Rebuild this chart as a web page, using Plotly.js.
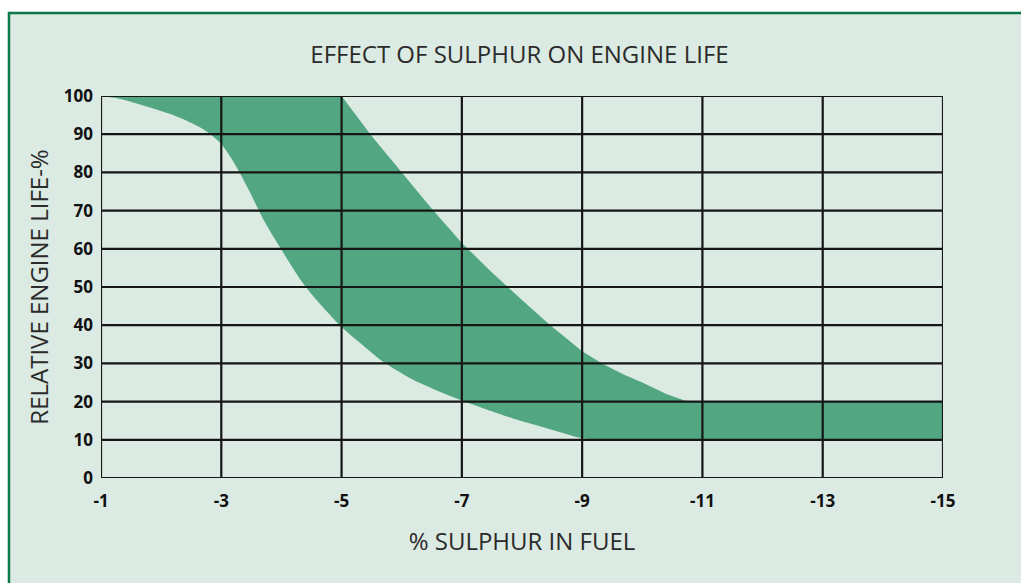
<!DOCTYPE html>
<html>
<head>
<meta charset="utf-8">
<script src="https://cdn.plot.ly/plotly-3.0.1.min.js"></script>
<style>html,body{margin:0;padding:0;background:#ffffff;}#chart{width:1021px;height:583px;}</style>
</head>
<body>
<div id="chart"></div>
<script>
// ---- data ----
const xTicks = [-1, -3, -5, -7, -9, -11, -13, -15];
const yTicks = [0, 10, 20, 30, 40, 50, 60, 70, 80, 90, 100];

// upper edge of the band (% sulphur, relative life %)
const upperX = [-1, -5, -5.5, -6, -6.5, -7, -7.5, -8, -8.46, -9, -9.33, -9.7, -10, -10.4, -10.75, -15];
const upperY = [100, 100, 89.5, 80, 70.5, 61.5, 53.8, 46.6, 40.1, 33.2, 30, 27, 25, 22, 20, 20];

// lower edge of the band
const lowerX = [-1, -1.3, -1.65, -2.2, -2.7, -2.98, -3.12, -3.26, -3.48, -3.7, -3.98, -4.39, -4.97, -5.35, -5.69, -6.19, -6.6, -6.97, -7.4, -7.85, -8.4, -9, -9.3, -15];
const lowerY = [100, 99.3, 97.8, 95.0, 91.3, 87.8, 84.8, 81.2, 74.7, 67.7, 60.3, 50.3, 40, 34.8, 30.4, 25.7, 22.8, 20.5, 18.0, 15.6, 13.1, 10.4, 10, 10];

// ---- styles ----
const bandColor = '#52a681';
const bgColor = '#dbeae2';
const gridColor = '#161616';
const frameColor = '#0b7a4a';

const lowerTrace = {
  x: lowerX, y: lowerY, type: 'scatter', mode: 'lines',
  line: {width: 0, color: bandColor, shape: 'spline', smoothing: 0.8},
  hoverinfo: 'skip', showlegend: false
};
const upperTrace = {
  x: upperX, y: upperY, type: 'scatter', mode: 'lines',
  fill: 'tonexty', fillcolor: bandColor,
  line: {width: 0, color: bandColor},
  hoverinfo: 'skip', showlegend: false
};

const xMin = xTicks[0], xMax = xTicks[xTicks.length - 1];
const yMin = yTicks[0], yMax = yTicks[yTicks.length - 1];

const shapes = [];
// frame of the whole figure
shapes.push({type: 'rect', xref: 'paper', yref: 'paper', layer: 'below',
  x0: -0.1093, x1: 1.2, y0: -0.5, y1: 1.2173,
  fillcolor: bgColor, line: {color: frameColor, width: 2.5}});
xTicks.forEach(v => shapes.push({type: 'line', xref: 'x', yref: 'y', layer: 'above',
  x0: v, x1: v, y0: yMin, y1: yMax, line: {color: gridColor, width: 2.2}}));
yTicks.forEach(v => shapes.push({type: 'line', xref: 'x', yref: 'y', layer: 'above',
  x0: xMin, x1: xMax, y0: v, y1: v, line: {color: gridColor, width: 2.2}}));

const tickFont = {family: 'Open Sans, sans-serif', size: 17, color: '#111111', weight: 'bold'};
const titleFont = {family: 'Open Sans, sans-serif', size: 24, color: '#2b2b2b'};

const layout = {
  width: 1021, height: 583,
  margin: {l: 101, r: 78, t: 96, b: 105},
  paper_bgcolor: '#ffffff',
  plot_bgcolor: 'rgba(0,0,0,0)',
  title: {text: 'EFFECT OF SULPHUR ON ENGINE LIFE', font: titleFont,
    x: 0.5088, xanchor: 'center', xref: 'container', y: 0.907, yanchor: 'middle', yref: 'container'},
  xaxis: {
    range: [xMin, xMax], tickvals: xTicks, ticktext: xTicks.map(String),
    showgrid: false, zeroline: false, showline: false, ticks: '',
    ticklabelstandoff: 11, tickfont: tickFont,
    title: {text: '% SULPHUR IN FUEL', font: titleFont, standoff: 22},
    fixedrange: true
  },
  yaxis: {
    range: [yMin, yMax], tickvals: yTicks, ticktext: yTicks.map(String),
    showgrid: false, zeroline: false, showline: false, ticks: '',
    ticklabelstandoff: 7, tickfont: tickFont,
    title: {text: 'RELATIVE ENGINE LIFE-%', font: titleFont, standoff: 8},
    fixedrange: true
  },
  shapes: shapes,
  showlegend: false
};

Plotly.newPlot('chart', [lowerTrace, upperTrace], layout, {displayModeBar: false, staticPlot: true});
</script>
</body>
</html>
